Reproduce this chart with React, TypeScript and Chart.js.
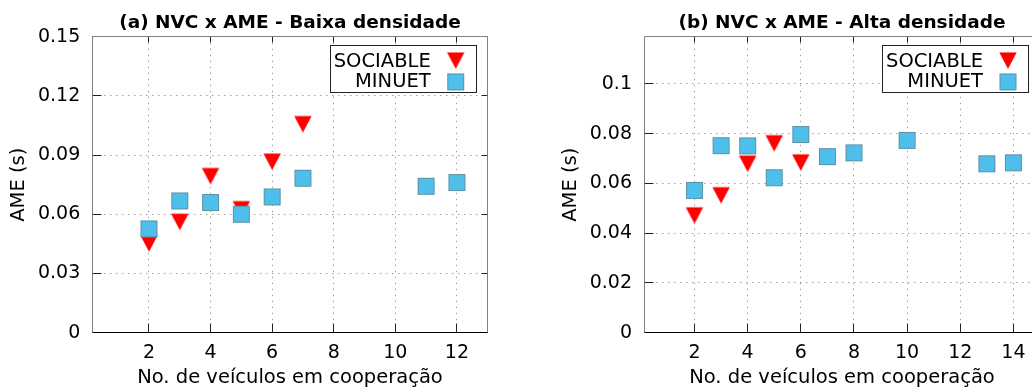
import React, { useEffect, useRef } from 'react';
import { Chart, registerables } from 'chart.js';

Chart.register(...registerables);

const FONT = "'DejaVu Sans', 'Liberation Sans', sans-serif";

// ---------- Data: (a) Baixa densidade ----------
const X_TICKS_A = [2, 4, 6, 8, 10, 12];
const Y_TICKS_A = [0, 0.03, 0.06, 0.09, 0.12, 0.15];
const SOC_X_A = [2, 3, 4, 5, 6, 7];
const SOC_Y_A = [0.0466, 0.0575, 0.0807, 0.0639, 0.088, 0.107];
const MIN_X_A = [2, 3, 4, 5, 6, 7, 11, 12];
const MIN_Y_A = [0.0526, 0.0668, 0.066, 0.06, 0.0688, 0.0783, 0.0742, 0.0761];

// ---------- Data: (b) Alta densidade ----------
const X_TICKS_B = [2, 4, 6, 8, 10, 12, 14];
const Y_TICKS_B = [0, 0.02, 0.04, 0.06, 0.08, 0.1];
const SOC_X_B = [2, 3, 4, 5, 6];
const SOC_Y_B = [0.0482, 0.0563, 0.069, 0.0772, 0.0695];
const MIN_X_B = [2, 3, 4, 5, 6, 7, 8, 10, 13, 14];
const MIN_Y_B = [0.0572, 0.0752, 0.0751, 0.0623, 0.0797, 0.0708, 0.0723, 0.0773, 0.0679, 0.0683];

const TITLE_A = '(a) NVC x AME - Baixa densidade';
const TITLE_B = '(b) NVC x AME - Alta densidade';
const X_TITLE = 'No. de veículos em cooperação';
const Y_TITLE = 'AME (s)';
const LABEL_SOC = 'SOCIABLE';
const LABEL_MIN = 'MINUET';

const RED = '#ff0000';
const BLUE = '#4dbfea';

// ---------- marker images ----------
function makeTriangle(): HTMLCanvasElement {
  const c = document.createElement('canvas');
  const h = 16.6;
  const w = 17.4;
  c.width = 20;
  c.height = 24;
  const ctx = c.getContext('2d')!;
  const cx = 10;
  const cy = 12;
  ctx.fillStyle = RED;
  ctx.beginPath();
  ctx.moveTo(cx - w / 2, cy - h / 3);
  ctx.lineTo(cx + w / 2, cy - h / 3);
  ctx.lineTo(cx, cy + (2 * h) / 3);
  ctx.closePath();
  ctx.fill();
  return c;
}
function makeSquare(): HTMLCanvasElement {
  const c = document.createElement('canvas');
  c.width = 19;
  c.height = 19;
  const ctx = c.getContext('2d')!;
  ctx.fillStyle = BLUE;
  ctx.fillRect(1, 1, 17, 17);
  ctx.strokeStyle = 'rgba(110,110,110,0.55)';
  ctx.lineWidth = 1;
  ctx.strokeRect(1.5, 1.5, 16, 16);
  return c;
}
const TRI_IMG = makeTriangle();
const SQ_IMG = makeSquare();

interface Cfg {
  title: string;
  xTicks: number[];
  yTicks: number[];
  xMin: number;
  xMax: number;
  yMax: number;
  socX: number[];
  socY: number[];
  minX: number[];
  minY: number[];
  caLeft: number;
  padRight: number;
}

const CA_TOP = 36.7;
const CA_BOTTOM = 332.7;
const H = 387;

const align = (p: number) => Math.round(p - 0.5) + 0.5;

function framePlugin(cfg: Cfg) {
  return {
    id: 'gnuFrame',
    beforeDatasetsDraw(chart: any) {
      const { ctx, chartArea: ca } = chart;
      const xs = chart.scales.x;
      const ys = chart.scales.y;
      const L = align(ca.left), R = align(ca.right), T = align(ca.top), B = align(ca.bottom);
      ctx.save();
      ctx.lineWidth = 1;
      ctx.setLineDash([]);
      // ticks
      ctx.strokeStyle = '#222';
      ctx.beginPath();
      cfg.xTicks.forEach((v) => {
        const p = align(xs.getPixelForValue(v));
        ctx.moveTo(p, B);
        ctx.lineTo(p, B - 9);
        ctx.moveTo(p, T);
        ctx.lineTo(p, T + 6);
      });
      cfg.yTicks.forEach((v) => {
        const p = align(ys.getPixelForValue(v));
        ctx.moveTo(L, p);
        ctx.lineTo(L + 9, p);
        ctx.moveTo(R, p);
        ctx.lineTo(R - 6, p);
      });
      ctx.stroke();
      // frame
      ctx.strokeStyle = '#808080';
      ctx.beginPath();
      ctx.moveTo(L, B);
      ctx.lineTo(L, T);
      ctx.lineTo(R, T);
      ctx.lineTo(R, B);
      ctx.stroke();
      ctx.strokeStyle = '#000';
      ctx.beginPath();
      ctx.moveTo(L, B);
      ctx.lineTo(R, B);
      ctx.stroke();
      ctx.restore();
    },
    afterDraw(chart: any) {
      const { ctx, chartArea: ca } = chart;
      const cx = (ca.left + ca.right) / 2;
      ctx.save();
      ctx.fillStyle = '#000';
      // title
      ctx.font = `bold 18.5px ${FONT}`;
      ctx.textAlign = 'center';
      ctx.textBaseline = 'alphabetic';
      ctx.fillText(cfg.title, cx, 28.3);
      // x title
      ctx.font = `19.5px ${FONT}`;
      ctx.fillText(X_TITLE, cx, 382.7);
      // y title
      ctx.save();
      ctx.translate(ca.left - 73, (ca.top + ca.bottom) / 2);
      ctx.rotate(-Math.PI / 2);
      ctx.textBaseline = 'middle';
      ctx.fillText(Y_TITLE, 0, 0);
      ctx.restore();
      // legend
      const bw = 146;
      const bh = 46.5;
      const br = ca.right - 11.3;
      const bl = br - bw;
      const bt = ca.top + 9;
      ctx.fillStyle = '#fff';
      ctx.fillRect(bl, bt, bw, bh);
      ctx.strokeStyle = '#222';
      ctx.lineWidth = 1;
      ctx.strokeRect(align(bl), align(bt), Math.round(bw), Math.round(bh));
      ctx.fillStyle = '#000';
      ctx.textAlign = 'right';
      ctx.textBaseline = 'alphabetic';
      ctx.font = `19.5px ${FONT}`;
      ctx.fillText(LABEL_SOC, br - 45.7, bt + 21);
      ctx.fillText(LABEL_MIN, br - 45.7, bt + 41.7);
      const sx = br - 20.7;
      ctx.drawImage(TRI_IMG, sx - TRI_IMG.width / 2, bt + 12.2 - TRI_IMG.height / 2);
      ctx.drawImage(SQ_IMG, sx - SQ_IMG.width / 2, bt + 36.2 - SQ_IMG.height / 2);
      ctx.restore();
    },
  };
}

function buildChart(canvas: HTMLCanvasElement, cfg: Cfg) {
  const tickFont = { family: FONT, size: 19 };
  return new Chart(canvas, {
    type: 'scatter',
    data: {
      datasets: [
        {
          label: LABEL_MIN,
          data: cfg.minX.map((x, i) => ({ x, y: cfg.minY[i] })),
          pointStyle: SQ_IMG as any,
          pointRadius: 9,
          order: 0,
        },
        {
          label: LABEL_SOC,
          data: cfg.socX.map((x, i) => ({ x, y: cfg.socY[i] })),
          pointStyle: TRI_IMG as any,
          pointRadius: 9,
          order: 1,
        },
      ],
    },
    options: {
      responsive: false,
      animation: false,
      events: [],
      layout: { padding: { left: 0, top: CA_TOP, right: cfg.padRight, bottom: 0 } },
      plugins: {
        legend: { display: false },
        title: { display: false },
        tooltip: { enabled: false },
      },
      scales: {
        x: {
          type: 'linear',
          min: cfg.xMin,
          max: cfg.xMax,
          afterBuildTicks: (s: any) => {
            s.ticks = cfg.xTicks.map((v) => ({ value: v }));
          },
          afterFit: (s: any) => {
            s.height = H - CA_BOTTOM;
          },
          grid: { color: '#a0a0a0', lineWidth: 1, drawTicks: false },
          border: { display: false, dash: [1.5, 4.5] },
          ticks: {
            font: tickFont,
            color: '#000',
            padding: 9,
            maxRotation: 0,
            autoSkip: false,
            callback: (v: any) => String(v),
          },
        },
        y: {
          type: 'linear',
          min: 0,
          max: cfg.yMax,
          afterBuildTicks: (s: any) => {
            s.ticks = cfg.yTicks.map((v) => ({ value: v }));
          },
          afterFit: (s: any) => {
            s.width = cfg.caLeft;
          },
          grid: { color: '#a0a0a0', lineWidth: 1, drawTicks: false },
          border: { display: false, dash: [1.5, 4.5] },
          ticks: {
            font: tickFont,
            color: '#000',
            padding: 12,
            autoSkip: false,
            callback: (v: any) => String(v),
          },
        },
      },
    } as any,
    plugins: [framePlugin(cfg) as any],
  });
}

const CFG_A: Cfg = {
  title: TITLE_A,
  xTicks: X_TICKS_A,
  yTicks: Y_TICKS_A,
  xMin: 0.16,
  xMax: 13,
  yMax: 0.15,
  socX: SOC_X_A,
  socY: SOC_Y_A,
  minX: MIN_X_A,
  minY: MIN_Y_A,
  caLeft: 92.3,
  padRight: 516 - 487.7,
};

const CFG_B: Cfg = {
  title: TITLE_B,
  xTicks: X_TICKS_B,
  yTicks: Y_TICKS_B,
  xMin: 0.1,
  xMax: 15,
  yMax: 0.119,
  socX: SOC_X_B,
  socY: SOC_Y_B,
  minX: MIN_X_B,
  minY: MIN_Y_B,
  caLeft: 128,
  padRight: 540 - 524,
};

export default function App() {
  const refA = useRef<HTMLCanvasElement>(null);
  const refB = useRef<HTMLCanvasElement>(null);
  useEffect(() => {
    const c1 = buildChart(refA.current!, CFG_A);
    const c2 = buildChart(refB.current!, CFG_B);
    return () => {
      c1.destroy();
      c2.destroy();
    };
  }, []);
  return (
    <div
      style={{
        position: 'fixed',
        left: 0,
        top: 0,
        width: 1032,
        height: 387,
        overflow: 'hidden',
        background: '#fff',
      }}
    >
      <canvas
        ref={refA}
        width={516}
        height={387}
        style={{ position: 'absolute', left: 0, top: 0, width: 516, height: 387 }}
      />
      <canvas
        ref={refB}
        width={540}
        height={387}
        style={{ position: 'absolute', left: 516, top: 0, width: 540, height: 387 }}
      />
    </div>
  );
}
